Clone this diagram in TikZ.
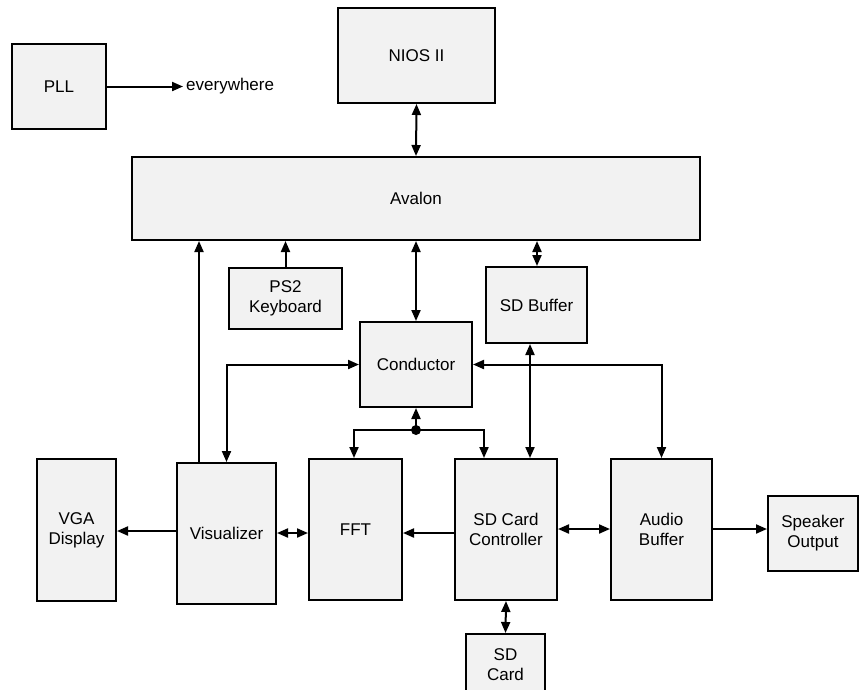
\documentclass[tikz,border=0pt]{standalone}
\usepackage{fontspec}
\setmainfont{Liberation Sans}
\usetikzlibrary{arrows.meta}
\definecolor{boxfill}{HTML}{F2F2F2}
\tikzset{
  blk/.style={draw=black, fill=boxfill, line width=2pt, inner sep=0pt, align=center,
    font=\fontsize{17}{20}\selectfont},
  conn/.style={line width=2pt},
  tip/.style={-{Triangle[length=11pt,width=9pt]}},
  dtip/.style={{Triangle[length=11pt,width=9pt]}-{Triangle[length=11pt,width=9pt]}}
}
\newcommand{\bx}[6]{\node[blk, minimum width=#4pt, minimum height=#5pt] (#1) at (#2,#3) {#6};}
\begin{document}
\begin{tikzpicture}[x=1pt,y=-1pt]
\useasboundingbox (0,0) rectangle (859,689);
\clip (0,0) rectangle (859,689);
\bx{pll}{59}{86.5}{94}{85}{PLL}
\bx{nios}{416.5}{55.5}{157}{95}{NIOS II}
\bx{avalon}{416}{198.5}{568}{83}{Avalon}
\bx{ps2}{285.5}{298.5}{113}{61}{PS2\\Keyboard}
\bx{sdbuf}{536.5}{305}{101}{76}{SD Buffer}
\bx{cond}{416}{364.5}{112}{85}{Conductor}
\bx{vga}{76.5}{530}{79}{142}{VGA\\Display}
\bx{vis}{226.5}{533.5}{99}{141}{Visualizer}
\bx{fft}{355.5}{529.5}{93}{141}{FFT}
\bx{sdctrl}{506}{529.5}{102}{141}{SD Card\\Controller}
\bx{audio}{661.5}{529.5}{101}{141}{Audio\\Buffer}
\bx{spk}{813}{533.5}{90}{75}{Speaker\\Output}
\node[blk, minimum width=79pt, minimum height=62pt, anchor=north] (sdcard) at (505.5,633) {SD\\Card};
\node[anchor=west, inner sep=0pt, font=\fontsize{17}{20}\selectfont] (every) at (186,86) {everywhere};
\coordinate (evtip) at (183,86.5);
\coordinate (dot) at (416,430);
% connectors
\draw[conn,tip] (pll.east) -- (evtip);
\draw[conn,dtip] (nios.south) -- (avalon.north);
\draw[conn,tip] (ps2.north) -- (ps2.north |- avalon.south);
\draw[conn,tip] (vis.north -| 199,0) -- (199,0 |- avalon.south);
\draw[conn,dtip] (avalon.south) -- (cond.north);
\draw[conn,dtip] (sdbuf.north -| 537,0) -- (537,0 |- avalon.south);
\draw[conn,dtip] (cond.west) -| (vis.north);
\draw[conn,dtip] (cond.east) -| (audio.north);
\draw[conn,dtip] (sdbuf.south -| 530,0) -- (530,0 |- sdctrl.north);
\fill (dot) circle (5pt);
\draw[conn,tip] (dot) -- (cond.south);
\draw[conn,tip] (dot) -- (354,430) -- (354,0 |- fft.north);
\draw[conn,tip] (dot) -- (484,430) -- (484,0 |- sdctrl.north);
\draw[conn,tip] (vis.west |- 0,531) -- (vga.east |- 0,531);
\draw[conn,dtip] (vis.east |- 0,533) -- (fft.west |- 0,533);
\draw[conn,tip] (sdctrl.west |- 0,533) -- (fft.east |- 0,533);
\draw[conn,dtip] (sdctrl.east |- 0,529) -- (audio.west |- 0,529);
\draw[conn,tip] (audio.east |- 0,529) -- (spk.west |- 0,529);
\draw[conn,dtip] (sdctrl.south) -- (sdcard.north);
\end{tikzpicture}
\end{document}
